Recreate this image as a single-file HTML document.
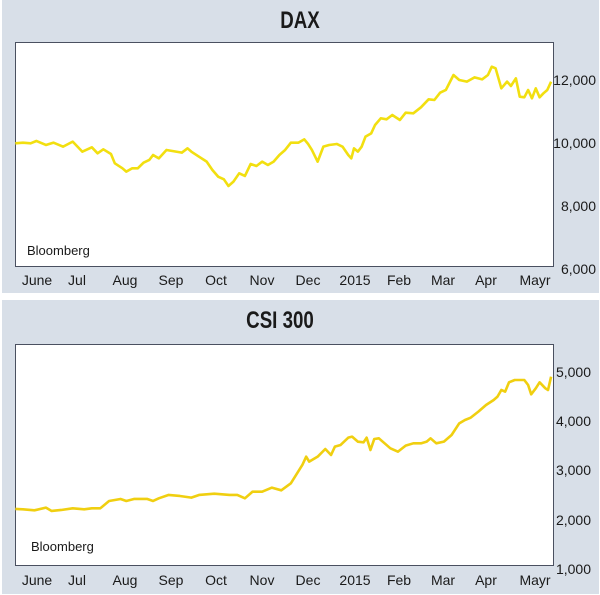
<!DOCTYPE html>
<html><head><style>
html,body{margin:0;padding:0;background:#fff;}
svg{display:block;}
text{font-family:"Liberation Sans",sans-serif;fill:#1a1a1a;}
</style></head><body>
<svg width="600" height="595" viewBox="0 0 600 595" xmlns="http://www.w3.org/2000/svg">
<rect x="2" y="0" width="597" height="293" fill="#d8dfe8"/>
<rect x="2" y="300" width="597" height="294" fill="#d8dfe8"/>
<!-- DAX -->
<text x="300" y="28" font-size="24" font-weight="bold" text-anchor="middle" transform="translate(300,0) scale(0.78,1) translate(-300,0)">DAX</text>
<rect x="15.5" y="42.5" width="538" height="224" fill="#fff" stroke="#4a5060" stroke-width="1"/>
<g font-size="14" text-anchor="end">
<text x="596" y="85">12,000</text><text x="596" y="148">10,000</text><text x="596" y="211">8,000</text><text x="596" y="274">6,000</text>
</g>
<g font-size="14" text-anchor="middle">
<text x="37" y="285">June</text><text x="77" y="285">Jul</text><text x="125" y="285">Aug</text><text x="171" y="285">Sep</text><text x="216" y="285">Oct</text><text x="262" y="285">Nov</text><text x="308" y="285">Dec</text><text x="355" y="285">2015</text><text x="399" y="285">Feb</text><text x="443" y="285">Mar</text><text x="486" y="285">Apr</text><text x="535" y="285">Mayr</text>
</g>
<text x="27" y="255" font-size="13">Bloomberg</text>
<g transform="scale(0.3827,0.3333)">
<polyline fill="none" stroke="#f2df10" stroke-width="2.6" vector-effect="non-scaling-stroke" stroke-linejoin="round" points="40,430 60,428 80,430 95,423 120,435 140,428 165,440 190,425 215,455 240,442 255,460 270,448 290,462 300,490 320,505 330,515 345,505 360,505 375,488 390,480 400,465 415,475 435,450 460,455 475,458 490,445 500,455 520,470 540,485 555,510 570,530 585,538 597,558 610,545 625,520 640,528 655,492 670,498 685,485 700,495 715,485 730,465 745,450 760,428 780,428 795,418 805,432 815,450 830,485 845,440 860,435 880,432 895,440 910,465 918,475 925,445 935,455 945,440 955,410 970,400 980,375 995,355 1010,358 1025,345 1045,360 1060,338 1080,340 1100,322 1120,298 1135,300 1150,278 1165,270 1185,225 1200,240 1220,245 1240,232 1260,238 1275,225 1285,200 1295,205 1310,265 1325,245 1335,258 1348,235 1358,290 1370,292 1380,270 1390,295 1400,265 1410,292 1420,280 1430,270 1440,245"/>
</g>
<!-- CSI -->
<text x="280" y="328" font-size="24" font-weight="bold" text-anchor="middle" transform="translate(280,0) scale(0.78,1) translate(-280,0)">CSI 300</text>
<rect x="15.5" y="344.5" width="538" height="221" fill="#fff" stroke="#4a5060" stroke-width="1"/>
<g font-size="14" text-anchor="end">
<text x="591" y="377">5,000</text><text x="591" y="426">4,000</text><text x="591" y="475">3,000</text><text x="591" y="525">2,000</text><text x="591" y="574">1,000</text>
</g>
<g font-size="14" text-anchor="middle">
<text x="37" y="585">June</text><text x="77" y="585">Jul</text><text x="125" y="585">Aug</text><text x="171" y="585">Sep</text><text x="216" y="585">Oct</text><text x="262" y="585">Nov</text><text x="308" y="585">Dec</text><text x="355" y="585">2015</text><text x="399" y="585">Feb</text><text x="443" y="585">Mar</text><text x="486" y="585">Apr</text><text x="535" y="585">Mayr</text>
</g>
<text x="31" y="551" font-size="13">Bloomberg</text>
<g transform="translate(0,295) scale(0.3827,0.3333)">
<polyline fill="none" stroke="#f0cf10" stroke-width="2.6" vector-effect="non-scaling-stroke" stroke-linejoin="round" points="40,642 60,643 90,646 120,638 135,648 160,645 190,640 220,643 240,640 262,640 285,618 315,612 330,618 350,612 385,612 400,618 415,610 440,600 470,603 500,608 520,600 560,596 600,600 620,600 640,610 660,590 685,590 710,578 735,586 760,565 790,510 800,485 808,500 830,485 850,462 865,480 875,455 890,450 910,428 920,425 935,440 950,442 958,428 968,465 978,432 990,430 1005,445 1020,460 1040,470 1060,452 1080,445 1100,445 1115,440 1125,430 1140,445 1160,440 1180,420 1200,385 1215,375 1230,368 1250,350 1270,330 1290,315 1300,305 1310,285 1320,290 1330,262 1345,255 1370,255 1380,270 1388,298 1400,280 1410,262 1425,280 1432,285 1440,245"/>
</g>
</svg>
</body></html>
